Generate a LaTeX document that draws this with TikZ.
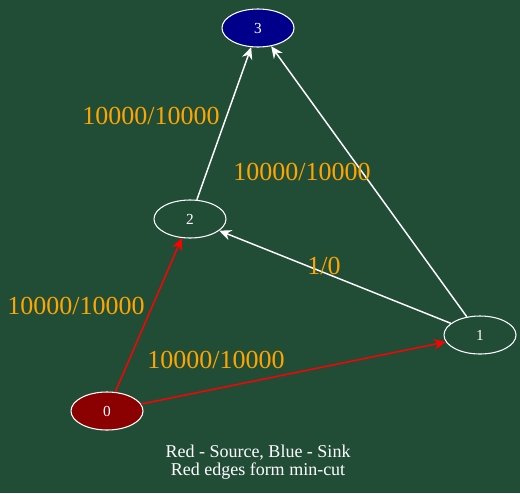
\documentclass[tikz,border=0pt]{standalone}
\usepackage{fontspec}
\setmainfont{Liberation Serif}
\usetikzlibrary{shapes.geometric,arrows.meta}
\definecolor{bggreen}{RGB}{33,77,55}
\definecolor{srcred}{RGB}{139,0,0}
\definecolor{sinkblue}{RGB}{0,0,139}
\definecolor{lblorange}{RGB}{255,165,0}
\begin{document}
\begin{tikzpicture}[x=0.75pt, y=-0.75pt, >={Stealth[length=9pt,width=8pt,inset=3pt]},
 whitenode/.style={ellipse, draw=white, thick, minimum width=54pt, minimum height=28.5pt, inner sep=0pt, text=white, font=\fontsize{11.5}{13}\selectfont},
 rednode/.style={whitenode, fill=srcred},  bluenode/.style={whitenode, fill=sinkblue},
 flowlabel/.style={text=lblorange, font=\fontsize{19.5}{22}\selectfont, inner sep=0pt}, ]
                \fill[bggreen] (0,0) rectangle (520,493);
                \useasboundingbox (0,0) rectangle (520,493);

                \node[bluenode] (3) at (258,28) {3};
                \node[whitenode] (2) at (190,219) {2};
                \node[whitenode] (1) at (480,335) {1};
                \node[rednode] (0) at (107,411) {0};

                \path [->,red,line width=1.1pt](0) edge (2)
                                                  edge (1);
                \path [->,white,line width=1.1pt](2) edge (3)
                                                    (1) edge (3)
                                                        edge (2);

                \node[flowlabel] (l02) at (76,306) {10000/10000};
                \node[flowlabel] (l01) at (216,360) {10000/10000};
                \node[flowlabel] (l23) at (151,116) {10000/10000};
                \node[flowlabel] (l13) at (302,172) {10000/10000};
                \node[flowlabel] (l12) at (324,266) {1/0};

                \node[text=white, align=center, font=\fontsize{13.5}{13.5}\selectfont] (caption) at (258,462) {Red - Source, Blue - Sink\\Red edges form min-cut};
\end{tikzpicture}
\end{document}
